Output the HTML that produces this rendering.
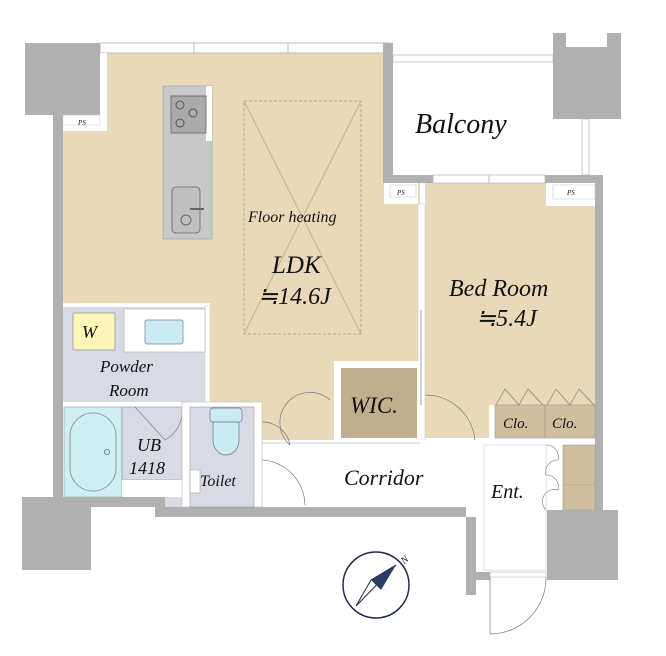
<!DOCTYPE html>
<html><head><meta charset="utf-8"><style>
html,body{margin:0;padding:0;background:#fff}
svg{display:block}
text{font-family:"Liberation Serif",serif;font-style:italic;fill:#111}
</style></head><body>
<svg width="666" height="656" viewBox="0 0 666 656" xmlns="http://www.w3.org/2000/svg">
<rect width="666" height="656" fill="#fff"/>
<!-- LDK floor -->
<polygon points="63,53 384,53 384,183 420,183 420,440 262,440 262,402 210,402 210,306 63,306" fill="#e8dab8"/>
<!-- bedroom floor -->
<rect x="425" y="183" width="170" height="255" fill="#e8dab8"/>
<!-- top window line -->
<rect x="100" y="43" width="290" height="10" fill="#fff" stroke="#bbb" stroke-width="1"/>
<line x1="194" y1="43" x2="194" y2="53" stroke="#bbb"/><line x1="288" y1="43" x2="288" y2="53" stroke="#bbb"/>
<!-- top-left gray block -->
<rect x="25" y="43" width="75" height="72" fill="#b0b0b0"/>
<rect x="53" y="115" width="10" height="392" fill="#b0b0b0"/>
<rect x="100" y="53" width="7" height="78" fill="#fff"/>
<rect x="63" y="115" width="44" height="16" fill="#fff"/>
<rect x="63" y="115" width="37" height="10" fill="#fff" stroke="#ccc" stroke-width="0.6"/>
<text x="78" y="125" font-size="7">PS</text>
<!-- kitchen -->
<rect x="163" y="86" width="49" height="153" fill="#c8c8c8" stroke="#999" stroke-width="0.6"/>
<rect x="206" y="86" width="6" height="55" fill="#fff"/>
<rect x="171" y="96" width="35" height="37" fill="#aaa" stroke="#666" stroke-width="0.8"/>
<circle cx="180" cy="105" r="4" fill="none" stroke="#555"/><circle cx="193" cy="113" r="4" fill="none" stroke="#555"/><circle cx="180" cy="123" r="4" fill="none" stroke="#555"/>
<rect x="172" y="187" width="28" height="46" rx="4" fill="#c0c0c0" stroke="#666" stroke-width="0.8"/>
<circle cx="186" cy="220" r="5" fill="none" stroke="#666"/>
<line x1="190" y1="209" x2="204" y2="209" stroke="#666" stroke-width="2"/>
<!-- floor heating -->
<rect x="244" y="101" width="117" height="233" fill="none" stroke="#a89878" stroke-width="0.8" stroke-dasharray="3,2"/>
<line x1="244" y1="101" x2="361" y2="334" stroke="#a89878" stroke-width="0.6"/>
<line x1="361" y1="101" x2="244" y2="334" stroke="#a89878" stroke-width="0.6"/>
<!-- balcony -->
<rect x="383" y="43" width="10" height="140" fill="#b0b0b0"/>
<rect x="393" y="55" width="160" height="7" fill="#fff" stroke="#bbb" stroke-width="0.8"/>
<polygon points="553,33 566,33 566,47 607,47 607,33 621,33 621,119 553,119" fill="#b0b0b0"/>
<rect x="582" y="119" width="7" height="56" fill="#fff" stroke="#bbb" stroke-width="0.8"/>
<rect x="383" y="175" width="220" height="8" fill="#b0b0b0"/>
<rect x="433" y="175" width="112" height="8" fill="#fff" stroke="#bbb" stroke-width="0.8"/>
<line x1="489" y1="175" x2="489" y2="183" stroke="#bbb"/>
<rect x="595" y="175" width="8" height="335" fill="#b0b0b0"/>
<rect x="384" y="183" width="34" height="21" fill="#fff"/>
<rect x="390" y="185" width="26" height="12" fill="#fff" stroke="#ccc" stroke-width="0.6"/>
<text x="397" y="195" font-size="7">PS</text>
<rect x="546" y="183" width="49" height="23" fill="#fff"/>
<rect x="553" y="185" width="42" height="14" fill="#fff" stroke="#ccc" stroke-width="0.6"/>
<text x="567" y="195" font-size="7">PS</text>
<rect x="418" y="204" width="7" height="236" fill="#fff" stroke="#ccc" stroke-width="0.6"/>
<line x1="421" y1="310" x2="421" y2="405" stroke="#888" stroke-width="0.8"/>
<!-- WIC -->
<rect x="334" y="361" width="86" height="79" fill="#fff"/>
<rect x="341" y="368" width="76" height="70" fill="#c2ae8c"/>
<!-- clo -->
<rect x="489" y="405" width="106" height="35" fill="#fff"/>
<rect x="495" y="405" width="50" height="33" fill="#cfbf9e" stroke="#999" stroke-width="0.6"/>
<rect x="545" y="405" width="50" height="33" fill="#cfbf9e" stroke="#999" stroke-width="0.6"/>
<path d="M496,405 L505,389 L519,405 L528,389 L543,405 M547,405 L556,389 L570,405 L579,389 L594,405" fill="none" stroke="#777" stroke-width="0.6"/>
<!-- bedroom door arc -->
<path d="M425,395 A50,50 0 0 1 475,440" fill="none" stroke="#777" stroke-width="0.7"/>
<!-- corridor -->
<rect x="262" y="440" width="222" height="67" fill="#fff"/>
<line x1="262" y1="443" x2="420" y2="443" stroke="#ccc"/>
<path d="M262,422 A28,28 0 0 1 290,445 M290,445 A30,30 0 0 1 330,400" fill="none" stroke="#777" stroke-width="0.7"/>
<path d="M255,460 A46,46 0 0 1 305,505" fill="none" stroke="#777" stroke-width="0.7"/>
<!-- ent -->
<rect x="484" y="445" width="62" height="125" fill="#fff" stroke="#ccc" stroke-width="0.6"/>
<rect x="563" y="445" width="32" height="65" fill="#cfbf9e" stroke="#999" stroke-width="0.6"/>
<line x1="563" y1="485" x2="595" y2="485" stroke="#999" stroke-width="0.6"/>
<path d="M546,445 A12,12 0 0 1 558,460 A12,12 0 0 0 546,475 A12,12 0 0 1 558,490 A12,12 0 0 0 546,510" fill="none" stroke="#777" stroke-width="0.6"/>
<rect x="547" y="510" width="71" height="70" fill="#b0b0b0"/>
<polygon points="155,507 466,507 466,595 476,595 476,580 490,580 490,572 476,572 476,517 165,517" fill="#b0b0b0"/>
<rect x="490" y="572" width="56" height="5" fill="#fff" stroke="#bbb" stroke-width="0.6"/>
<line x1="490" y1="577" x2="490" y2="634" stroke="#888" stroke-width="0.8"/>
<path d="M490,634 A56,56 0 0 0 546,577" fill="none" stroke="#777" stroke-width="0.7"/>
<!-- powder room -->
<rect x="63" y="306" width="147" height="96" fill="#d8dbe6"/>
<rect x="63" y="303" width="147" height="4" fill="#fff"/>
<rect x="205" y="306" width="5" height="96" fill="#fff" stroke="#ccc" stroke-width="0.5"/>
<rect x="73" y="313" width="42" height="37" fill="#fbf6b5" stroke="#999" stroke-width="0.8"/>
<rect x="124" y="309" width="81" height="43" fill="#fff" stroke="#aaa" stroke-width="0.6"/>
<rect x="145" y="320" width="38" height="24" rx="2" fill="#c9ecf2" stroke="#888" stroke-width="0.8"/>
<!-- bath -->
<rect x="63" y="402" width="120" height="5" fill="#fff"/>
<rect x="64" y="407" width="58" height="90" fill="#cdeef3" stroke="#888" stroke-width="0.5"/>
<rect x="70" y="413" width="46" height="78" rx="23" fill="none" stroke="#888" stroke-width="0.8"/>
<circle cx="107" cy="452" r="2.5" fill="none" stroke="#777"/>
<rect x="122" y="407" width="60" height="73" fill="#d8dbe6" stroke="#888" stroke-width="0.5"/>
<rect x="122" y="480" width="60" height="17" fill="#fff"/>
<path d="M135,407 L165,440 A33,33 0 0 0 182,407" fill="none" stroke="#777" stroke-width="0.6"/>
<rect x="165" y="497" width="18" height="10" fill="#d8dbe6"/>
<rect x="182" y="402" width="80" height="105" fill="#fff" stroke="#bbb" stroke-width="0.6"/>
<rect x="190" y="407" width="64" height="100" fill="#d8dbe6" stroke="#888" stroke-width="0.5"/>
<rect x="190" y="470" width="10" height="23" fill="#fff" stroke="#999" stroke-width="0.5"/>
<rect x="210" y="408" width="32" height="14" rx="3" fill="#c9ecf2" stroke="#777" stroke-width="0.7"/>
<path d="M213,422 L239,422 L239,440 A13,15 0 0 1 213,440 Z" fill="#c9ecf2" stroke="#777" stroke-width="0.7"/>
<!-- bottom-left -->
<rect x="63" y="497" width="102" height="10" fill="#b0b0b0"/>
<rect x="22" y="497" width="69" height="73" fill="#b0b0b0"/>
<rect x="155" y="507" width="10" height="10" fill="#b0b0b0"/>
<!-- compass -->
<circle cx="376" cy="585" r="33" fill="none" stroke="#1e2b4a" stroke-width="1.5"/>
<polygon points="396,565 371,580 356,606" fill="#fff" stroke="#1e2b4a" stroke-width="1"/>
<polygon points="396,565 371,580 381,590" fill="#2b3b63"/>
<text x="400" y="563" font-size="10" font-style="normal" transform="rotate(-40 404 558)">N</text>
<!-- labels -->
<text x="248" y="222" font-size="16">Floor heating</text>
<text x="272" y="273" font-size="25">LDK</text>
<text x="258" y="304" font-size="24">≒14.6J</text>
<text x="415" y="133" font-size="28">Balcony</text>
<text x="449" y="296" font-size="24">Bed Room</text>
<text x="476" y="326" font-size="24">≒5.4J</text>
<text x="350" y="413" font-size="23">WIC.</text>
<text x="503" y="428" font-size="15">Clo.</text>
<text x="552" y="428" font-size="15">Clo.</text>
<text x="344" y="485" font-size="22">Corridor</text>
<text x="491" y="498" font-size="20">Ent.</text>
<text x="100" y="372" font-size="17">Powder</text>
<text x="109" y="396" font-size="17">Room</text>
<text x="82" y="338" font-size="18">W</text>
<text x="137" y="451" font-size="18">UB</text>
<text x="129" y="474" font-size="18">1418</text>
<text x="200" y="486" font-size="16">Toilet</text>
</svg>
</body></html>
